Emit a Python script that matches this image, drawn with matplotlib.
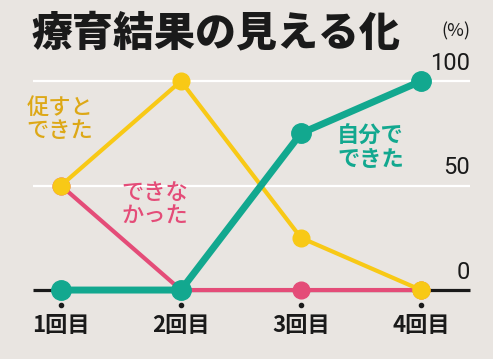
import matplotlib.pyplot as plt

plt.rcParams['font.family'] = ['Noto Sans CJK JP', 'DejaVu Sans']

rounds = ['1回目', '2回目', '3回目', '4回目']
prompted = [50, 100, 25, 0]    # 促すとできた
failed = [50, 0, 0, 0]         # できなかった
alone = [0, 0, 75, 100]        # 自分でできた
yticks = [0, 50, 100]

BG = '#E9E5E1'
YEL = '#F8C916'
PINK = '#E44C78'
TEAL = '#12A88F'

fig = plt.figure(figsize=(4.93, 3.59), dpi=100, facecolor=BG)
ax = fig.add_axes([0, 0, 1, 1])
ax.set_facecolor(BG)
ax.set_xlim(-0.508, 3.6)
ax.set_ylim(-33.0, 138.8)
ax.axis('off')

x = list(range(len(rounds)))
x0, x1 = -0.233, 3.408

# grid and baseline
for v in yticks:
    if v == 0:
        ax.plot([x0, x1], [v, v], color='#1a1a1a', lw=2.3, zorder=1, solid_capstyle='butt')
    else:
        ax.plot([x0, x1], [v, v], color='white', lw=1.6, zorder=1, solid_capstyle='butt')
    ax.text(x1, v + 3, str(v), ha='right', va='bottom', fontsize=17,
            color='#1a1a1a', family=['Liberation Sans Narrow', 'Roboto', 'DejaVu Sans'])
ax.text(x1, 124, '(%)', ha='right', va='center', fontsize=13, color='#1a1a1a')

# series
ax.plot(x, failed, color=PINK, lw=3, marker='o', ms=12, zorder=3)
ax.plot(x, prompted, color=YEL, lw=3, marker='o', ms=12, zorder=4)
ax.plot(x, alone, color=TEAL, lw=5, marker='o', ms=14, zorder=5)
# yellow marker at the end sits on top
ax.plot(x[-1], prompted[-1], 'o', color=YEL, ms=12, zorder=6)

# x labels
for i, lab in enumerate(rounds):
    ax.plot(i, -7.2, 'o', color='#1a1a1a', ms=3, zorder=2)
    ax.text(i, -17, lab, ha='center', va='center', fontsize=16,
            fontweight='bold', color='#1a1a1a')

# series labels
ax.text(-0.01, 82, '促すと\nできた', ha='center', va='center', fontsize=16,
        color='#DDA817', fontweight='medium', linespacing=1.0)
ax.text(0.78, 41, 'できな\nかった', ha='center', va='center', fontsize=16,
        color=PINK, fontweight='medium', linespacing=1.0)
ax.text(2.58, 68, '自分で\nできた', ha='center', va='center', fontsize=16,
        color=TEAL, fontweight='bold', linespacing=1.0)

# title
ax.text(-0.245, 123, '療育結果の見える化', ha='left', va='center', fontsize=29.5,
        fontweight='black', color='#1a1a1a')

fig.savefig('out.png', dpi=100, facecolor=BG)
